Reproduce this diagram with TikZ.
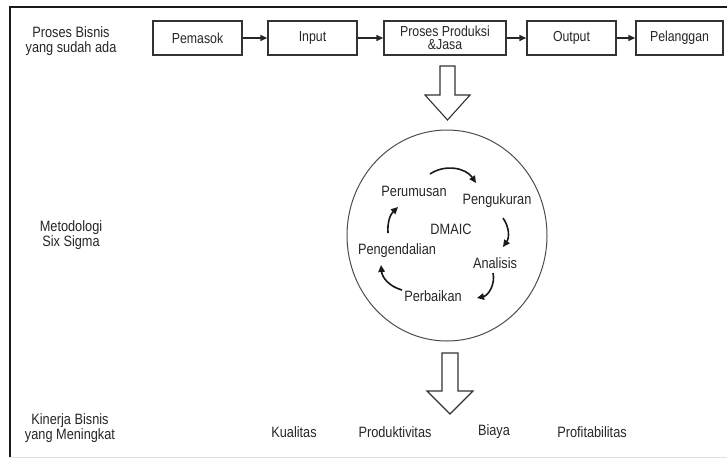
\documentclass[tikz,border=0pt]{standalone}
\usepackage{fontspec}
\setmainfont{Liberation Sans}[FakeStretch=0.85]
\usetikzlibrary{arrows.meta,shapes.geometric}
\begin{document}
\begin{tikzpicture}[x=1pt,y=-1pt,
  box/.style={draw=black!80, line width=1.4pt, minimum width=#1, minimum height=34pt,
    inner sep=0pt, font=\fontsize{14.5}{13}\selectfont, align=center, text=black!85},
  lbl/.style={font=\fontsize{15}{14.5}\selectfont, text=black!85, inner sep=1pt},
  flow/.style={-{Triangle[length=7pt,width=6pt]}, line width=1.4pt, draw=black!85},
  cyc/.style={-{Triangle[length=7pt,width=6.5pt]}, line width=1.6pt, draw=black!90},
  blk/.style={draw=black!80, line width=1.1pt, fill=white, line join=miter},
  frame/.style={line width=2.8pt, draw=black!90}]
\useasboundingbox (0,0) rectangle (727,458);
% frame
\coordinate (tl) at (10,7);
\coordinate (tr) at (727,7);
\coordinate (bl) at (10,457);
\coordinate (br) at (727,457);
\draw[black!12, line width=0.8pt] (bl) -- (br);
\draw[frame] (tr) -- (tl) -- (bl);
% left labels
\node[lbl, align=center] (l1) at (71,41) {Proses Bisnis\\yang sudah ada};
\node[lbl, align=center] (l2) at (71,235) {Metodologi\\Six Sigma};
\node[lbl, align=center] (l3) at (70,428) {Kinerja Bisnis\\yang Meningkat};
% process boxes
\node[box=89pt] (b1) at (197.5,38) {Pemasok};
\node[box=89pt] (b2) at (312.5,38) {Input};
\node[box=122pt] (b3) at (445,38) {Proses Produksi\\\&Jasa};
\node[box=89pt] (b4) at (571.5,38) {Output};
\node[box=87pt] (b5) at (679.5,38) {Pelanggan};
\draw[flow] (b1) -- (b2);
\draw[flow] (b2) -- (b3);
\draw[flow] (b3) -- (b4);
\draw[flow] (b4) -- (b5);
% block arrow 1
\draw[blk] (440,66) -- (455,66) -- (455,95) -- (470,95) -- (447.5,120) -- (425,95) -- (440,95) -- cycle;
% circle
\node[ellipse, draw=black!70, line width=1pt, minimum width=200pt, minimum height=211pt] (circ) at (447,235.5) {};
% cycle labels
\node[lbl] (pr) at (414,191) {Perumusan};
\node[lbl] (pu) at (497,201) {Pengukuran};
\node[lbl] (dm) at (451,229) {DMAIC};
\node[lbl] (pe) at (397,251) {Pengendalian};
\node[lbl] (an) at (495,263) {Analisis};
\node[lbl] (pb) at (433,296) {Perbaikan};
% cycle arrows
\coordinate (a1s) at (430,174); \coordinate (a1e) at (476,183);
\coordinate (a2s) at (503,218); \coordinate (a2e) at (503,247);
\coordinate (a3s) at (493,273); \coordinate (a3e) at (477,298);
\coordinate (a4s) at (402,290); \coordinate (a4e) at (381,265);
\coordinate (a5s) at (388,233); \coordinate (a5e) at (398,207);
\draw[cyc] (a1s) to[bend left=45] (a1e);
\draw[cyc] (a2s) to[bend left=35] (a2e);
\draw[cyc] (a3s) to[bend left=45] (a3e);
\draw[cyc] (a4s) to[bend left=35] (a4e);
\draw[cyc] (a5s) to[bend left=25] (a5e);
% block arrow 2
\draw[blk] (442,353) -- (458,353) -- (458,391) -- (473,391) -- (450,414) -- (427,391) -- (442,391) -- cycle;
% results
\node[lbl] (k1) at (294,432) {Kualitas};
\node[lbl] (k2) at (395,432) {Produktivitas};
\node[lbl] (k3) at (494,432) {Biaya};
\node[lbl] (k4) at (592,432) {Profitabilitas};
\end{tikzpicture}
\end{document}
